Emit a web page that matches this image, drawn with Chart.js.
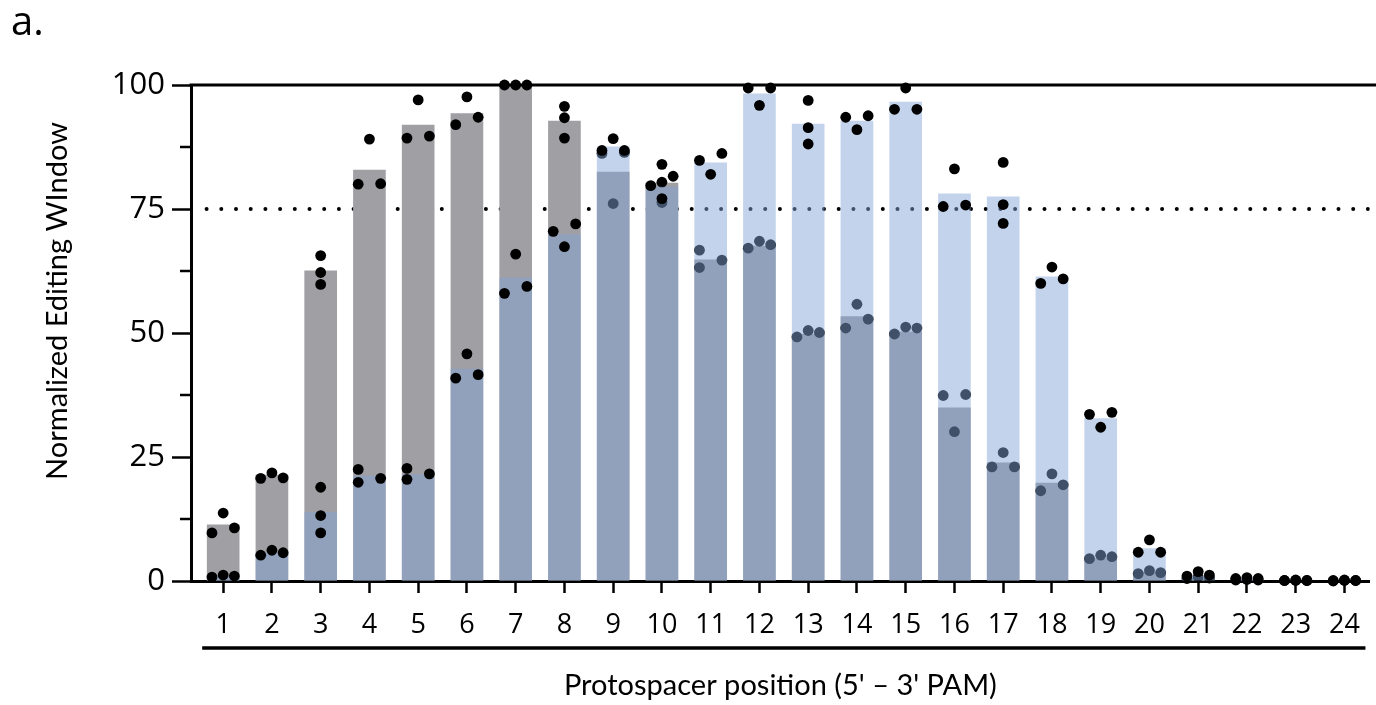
<!DOCTYPE html>
<html>
<head>
<meta charset="utf-8">
<script src="https://cdn.jsdelivr.net/npm/chart.js@4/dist/chart.umd.min.js"></script>
<style>
  html, body { margin: 0; padding: 0; background: #fff; }
  #wrap { width: 1376px; height: 705px; }
</style>
</head>
<body>
<div id="wrap"><canvas id="chart" width="1376" height="705"></canvas></div>
<script>
// ---- data ----
const positions = [1,2,3,4,5,6,7,8,9,10,11,12,13,14,15,16,17,18,19,20,21,22,23,24];

// grey series (bar = mean, three replicates)
const greyMeans = [11.4,21.4,62.6,82.9,92.0,94.3,100,92.8,82.5,80.3,64.8,67.6,
                   49.8,53.4,50.3,35.0,23.9,19.8,4.6,1.8,0.6,0.2,0.1,0.1];
const greyReps = [
  [13.7,9.7,10.7],[21.8,20.7,20.8],[65.6,62.2,59.8],[89.1,80.0,80.1],
  [97.0,89.3,89.7],[97.6,92.0,93.5],[100,100,100],[95.7,93.4,89.3],
  [86.2,86.4,76.1],[84.0,80.4,76.3],[66.7,63.2,64.7],[67.1,68.5,67.8],
  [49.2,50.5,50.1],[51.0,55.8,52.8],[49.8,51.2,51.0],[37.6,30.1,37.4],
  [23.0,25.9,23.0],[18.2,21.6,19.4],[4.5,5.2,4.9],[1.5,2.1,1.7],
  [0.5,0.8,0.6],[0.2,0.3,0.2],[0.1,0.1,0.1],[0.0,0.1,0.1]
];

// blue series
const blueMeans = [1.0,5.7,13.9,21.2,21.5,42.8,61.2,69.9,87.6,79.5,84.4,98.3,
                   92.2,92.8,96.6,78.1,77.5,61.4,32.8,6.6,1.1,0.4,0.1,0.1];
const blueReps = [
  [1.0,1.2,0.8],[5.2,6.2,5.7],[18.9,13.2,9.7],[22.5,19.9,20.7],
  [22.7,20.5,21.6],[45.8,40.9,41.6],[65.9,58.0,59.4],[72.0,67.4,70.5],
  [86.8,89.2,86.8],[81.6,79.7,77.1],[86.2,82.0,84.8],[99.4,95.9,99.4],
  [96.9,91.4,88.1],[93.8,91.0,93.5],[95.1,99.4,95.1],[75.5,83.1,75.8],
  [84.4,75.9,72.1],[60.0,63.3,60.9],[34.0,31.0,33.6],[5.8,8.3,5.8],
  [1.0,1.9,1.2],[0.5,0.7,0.5],[0.1,0.2,0.1],[0.1,0.2,0.1]
];

const yTicks = [0,25,50,75,100];
const threshold = 75;

// ---- look ----
const GREY = 'rgb(160,159,164)';
const BLUE = 'rgba(130,165,214,0.485)';
const X_MIN = 0.34, X_MAX = 24.52;
const SWARM_GAP = 2.15;   // values closer than this share a row
const SWARM_DX = 0.23;    // side offset, in category units

// simple beeswarm: rows of near-equal values are spread left/right
function swarm(reps) {
  const pts = [];
  reps.forEach((vals, p) => {
    const idx = vals.map((v, i) => i).sort((a, b) => vals[b] - vals[a]);
    const groups = [];
    let cur = [idx[0]];
    for (let k = 1; k < idx.length; k++) {
      if (vals[idx[k - 1]] - vals[idx[k]] < SWARM_GAP) cur.push(idx[k]);
      else { groups.push(cur); cur = [idx[k]]; }
    }
    groups.push(cur);
    groups.forEach(g => {
      let sides;
      if (g.length === 1) sides = [0];
      else if (g.length === 2) sides = [1, -1];
      else {
        const spread = vals[g[0]] - vals[g[g.length - 1]];
        sides = spread < SWARM_GAP ? [0, 1, -1] : [-1, 1, -1];
      }
      g.forEach((i, k) => pts.push({ x: positions[p] + sides[k] * SWARM_DX, y: vals[i] }));
    });
  });
  return pts;
}

const toBars = means => positions.map((p, i) => ({ x: p, y: means[i] }));

// extra bits GraphPad draws: top frame, minor ticks, group line, titles
const extras = {
  id: 'extras',
  afterDraw(chart) {
    const { ctx, chartArea: a, scales: { x, y } } = chart;
    ctx.save();
    ctx.strokeStyle = '#000';
    ctx.fillStyle = '#000';
    // top frame line
    ctx.lineWidth = 3;
    ctx.beginPath();
    ctx.moveTo(a.left - 1.5, a.top);
    ctx.lineTo(chart.width, a.top);
    ctx.stroke();
    // minor y ticks
    ctx.lineWidth = 2.5;
    for (let i = 0; i < yTicks.length - 1; i++) {
      const py = y.getPixelForValue((yTicks[i] + yTicks[i + 1]) / 2);
      ctx.beginPath();
      ctx.moveTo(a.left - 11, py);
      ctx.lineTo(a.left, py);
      ctx.stroke();
    }
    // group line under the position labels
    ctx.lineWidth = 3.5;
    ctx.beginPath();
    ctx.moveTo(x.getPixelForValue(positions[0]) - 21, a.bottom + 67);
    ctx.lineTo(x.getPixelForValue(positions[positions.length - 1]) + 21, a.bottom + 67);
    ctx.stroke();
    // y title
    ctx.font = '29px Lato';
    ctx.textAlign = 'center';
    ctx.textBaseline = 'middle';
    ctx.translate(58, 301);
    ctx.rotate(-Math.PI / 2);
    ctx.fillText('Normalized Editing WIndow', 0, 0);
    ctx.restore();
    // panel letter
    ctx.save();
    ctx.font = '40px "Open Sans"';
    ctx.textBaseline = 'alphabetic';
    ctx.fillText('a.', 11, 35);
    ctx.restore();
  }
};

new Chart(document.getElementById('chart'), {
  type: 'bar',
  data: {
    datasets: [
      {
        type: 'scatter', data: swarm(blueReps), order: 1, clip: false,
        backgroundColor: '#000', borderWidth: 0, pointRadius: 5.4
      },
      {
        type: 'bar', data: toBars(blueMeans), order: 2, grouped: false,
        backgroundColor: BLUE, borderWidth: 0,
        barPercentage: 0.67, categoryPercentage: 1
      },
      {
        type: 'scatter', data: swarm(greyReps), order: 3, clip: false,
        backgroundColor: '#000', borderWidth: 0, pointRadius: 5.4
      },
      {
        type: 'bar', data: toBars(greyMeans), order: 4, grouped: false,
        backgroundColor: GREY, borderWidth: 0,
        barPercentage: 0.67, categoryPercentage: 1
      },
      {
        type: 'line', order: 5,
        data: [{ x: X_MIN + 0.32, y: threshold }, { x: X_MAX, y: threshold }],
        borderColor: '#000', borderWidth: 4, borderDash: [0, 14.7],
        borderCapStyle: 'round', pointRadius: 0, fill: false
      }
    ]
  },
  options: {
    responsive: false,
    animation: false,
    devicePixelRatio: 1,
    layout: { padding: { top: 85, right: 0, left: 0, bottom: 0 } },
    plugins: { legend: { display: false }, tooltip: { enabled: false } },
    scales: {
      x: {
        type: 'linear', min: X_MIN, max: X_MAX, offset: false,
        afterBuildTicks(s) { s.ticks = positions.map(v => ({ value: v })); },
        afterFit(s) { s.height = 124; },
        ticks: { color: '#000', font: { family: 'Open Sans', size: 27 }, padding: 16 },
        grid: { offset: false, drawOnChartArea: false, tickLength: 12, tickWidth: 2.5, tickColor: '#000' },
        border: { color: '#000', width: 3 },
        title: {
          display: true, text: "Protospacer position (5' \u2013 3' PAM)", color: '#000',
          font: { family: 'Lato', size: 29 }, padding: { top: 0, bottom: 2 }
        }
      },
      y: {
        min: 0, max: 100,
        afterBuildTicks(s) { s.ticks = yTicks.map(v => ({ value: v })); },
        afterFit(s) { s.width = 191; },
        ticks: { color: '#000', font: { family: 'Open Sans', size: 31 }, padding: 7 },
        grid: { drawOnChartArea: false, tickLength: 19, tickWidth: 2.5, tickColor: '#000' },
        border: { color: '#000', width: 3 }
      }
    }
  },
  plugins: [extras]
});
</script>
</body>
</html>
